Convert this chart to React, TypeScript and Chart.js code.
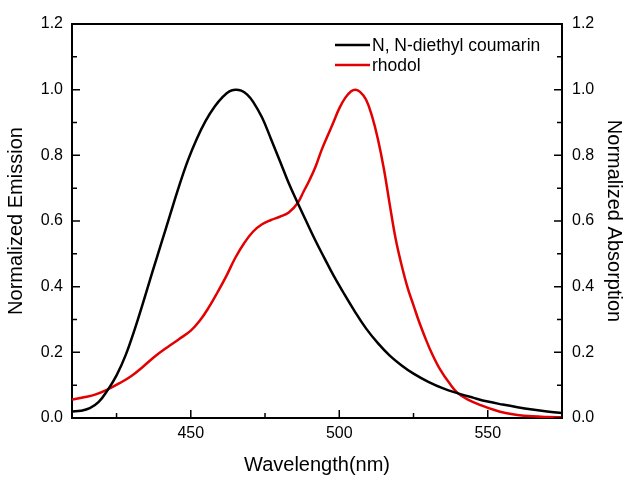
import React, { useEffect, useRef } from "react";
import { Chart, registerables } from "chart.js";

Chart.register(...registerables);

const coumarinLabel = "N, N-diethyl coumarin";
const rhodolLabel = "rhodol";

const coumarinWl = [410, 413, 416, 419, 422, 425, 428, 431, 434, 437, 440, 443, 446, 449, 452, 455, 458, 461, 463, 465, 467, 469, 471, 474, 477, 480, 483, 486, 489, 492, 495, 498, 501, 505, 509, 513, 517, 521, 525, 530, 535, 540, 545, 550, 555, 560, 565, 570, 575];
const coumarinEm = [0.02, 0.022, 0.03, 0.049, 0.085, 0.13, 0.19, 0.267, 0.353, 0.443, 0.53, 0.618, 0.705, 0.784, 0.85, 0.905, 0.948, 0.98, 0.995, 1.0, 0.997, 0.985, 0.963, 0.915, 0.85, 0.783, 0.715, 0.655, 0.597, 0.54, 0.487, 0.435, 0.388, 0.328, 0.273, 0.228, 0.19, 0.16, 0.135, 0.11, 0.09, 0.075, 0.062, 0.05, 0.041, 0.033, 0.026, 0.02, 0.015];

const rhodolWl = [410, 414, 418, 422, 426, 430, 434, 438, 442, 446, 450, 453, 456, 459, 462, 465, 468, 471, 474, 477, 480, 483, 486, 488, 490, 492, 494, 496, 498, 500, 502, 504, 505.5, 507, 509, 511, 513, 515, 517, 519, 521, 523, 525, 527, 529, 531, 534, 537, 540, 544, 548, 552, 556, 560, 565, 570, 575];
const rhodolAbs = [0.056, 0.063, 0.072, 0.087, 0.106, 0.128, 0.157, 0.188, 0.215, 0.24, 0.266, 0.296, 0.336, 0.383, 0.433, 0.488, 0.533, 0.568, 0.59, 0.603, 0.613, 0.626, 0.655, 0.69, 0.725, 0.765, 0.815, 0.858, 0.9, 0.943, 0.975, 0.995, 1.0, 0.993, 0.97, 0.92, 0.85, 0.76, 0.65, 0.545, 0.465, 0.397, 0.343, 0.29, 0.243, 0.2, 0.147, 0.107, 0.075, 0.053, 0.038, 0.025, 0.015, 0.009, 0.005, 0.003, 0.002];

const xMin = 410;
const xMax = 575;
const yMin = 0;
const yMax = 1.2;

const FONT = "'Liberation Sans', Arial, sans-serif";

const frameTicks = {
  id: "frameTicks",
  afterDraw(chart: any) {
    const { ctx, chartArea: a, scales } = chart;
    ctx.save();
    ctx.strokeStyle = "#000";
    ctx.lineWidth = 2;
    ctx.beginPath();
    ctx.moveTo(a.left - 1, a.top);
    ctx.lineTo(a.right + 1, a.top);
    ctx.stroke();
    ctx.lineWidth = 1.5;
    ctx.beginPath();
    scales.x.ticks.forEach((t: any) => {
      const major = Math.round(t.value) % 50 === 0;
      const px = scales.x.getPixelForValue(t.value);
      ctx.moveTo(px, a.bottom);
      ctx.lineTo(px, a.bottom - (major ? 8 : 5));
    });
    scales.y.ticks.forEach((t: any) => {
      const major = Math.round(t.value * 10) % 2 === 0;
      const py = scales.y.getPixelForValue(t.value);
      ctx.moveTo(a.left, py);
      ctx.lineTo(a.left + (major ? 8 : 5), py);
    });
    scales.y2.ticks.forEach((t: any) => {
      const major = Math.round(t.value * 10) % 2 === 0;
      const py = scales.y2.getPixelForValue(t.value);
      ctx.moveTo(a.right, py);
      ctx.lineTo(a.right - (major ? 8 : 5), py);
    });
    ctx.stroke();
    ctx.restore();
  },
};

const insideLegend = {
  id: "insideLegend",
  afterDraw(chart: any) {
    const { ctx, chartArea: a } = chart;
    const x0 = a.right - 227;
    ctx.save();
    ctx.font = `17.5px ${FONT}`;
    ctx.textBaseline = "middle";
    ctx.textAlign = "left";
    chart.data.datasets.forEach((ds: any, i: number) => {
      const y = a.top + 21 + i * 20;
      ctx.strokeStyle = ds.borderColor;
      ctx.lineWidth = 2.5;
      ctx.beginPath();
      ctx.moveTo(x0, y);
      ctx.lineTo(x0 + 35, y);
      ctx.stroke();
      ctx.fillStyle = "#000";
      ctx.fillText(ds.label, x0 + 37, y + 1);
    });
    ctx.restore();
  },
};

export default function App() {
  const ref = useRef<HTMLCanvasElement>(null);
  useEffect(() => {
    if (!ref.current) return;
    const yLabel = (v: any) => {
      const r = Math.round(Number(v) * 10);
      return r % 2 === 0 ? (r / 10).toFixed(1) : "";
    };
    const tickFont = { family: FONT, size: 16 };
    const titleFont = { family: FONT, size: 20, lineHeight: 1 };
    const chart = new Chart(ref.current, {
      type: "line",
      data: {
        datasets: [
          {
            label: coumarinLabel,
            data: coumarinWl.map((x, i) => ({ x, y: coumarinEm[i] })),
            borderColor: "#000000",
            borderWidth: 2.5,
            pointRadius: 0,
            tension: 0.4,
            yAxisID: "y",
          },
          {
            label: rhodolLabel,
            data: rhodolWl.map((x, i) => ({ x, y: rhodolAbs[i] })),
            borderColor: "#e30000",
            borderWidth: 2.5,
            pointRadius: 0,
            tension: 0.4,
            yAxisID: "y2",
          },
        ],
      },
      options: {
        responsive: false,
        animation: false,
        events: [],
        layout: { padding: { top: 24, left: 0, right: 0, bottom: 0 } },
        plugins: { legend: { display: false }, tooltip: { enabled: false } },
        scales: {
          x: {
            type: "linear",
            min: xMin,
            max: xMax,
            afterFit: (s: any) => {
              s.height = 59;
            },
            border: { display: true, color: "#000", width: 2 },
            grid: { display: false, drawTicks: false },
            ticks: {
              stepSize: 25,
              includeBounds: false,
              autoSkip: false,
              maxRotation: 0,
              padding: 6,
              color: "#000",
              font: tickFont,
              callback: (v: any) => (Math.round(Number(v)) % 50 === 0 ? String(v) : ""),
            },
            title: {
              display: true,
              text: "Wavelength(nm)",
              color: "#000",
              font: titleFont,
              padding: { top: 0, bottom: 2 },
            },
          },
          y: {
            type: "linear",
            position: "left",
            min: yMin,
            max: yMax,
            afterFit: (s: any) => {
              s.width = 72;
            },
            border: { display: true, color: "#000", width: 2 },
            grid: { display: false, drawTicks: false },
            ticks: {
              stepSize: 0.1,
              autoSkip: false,
              padding: 9,
              color: "#000",
              font: tickFont,
              callback: yLabel,
            },
            title: {
              display: true,
              text: "Normalized Emission",
              color: "#000",
              font: titleFont,
              padding: { top: 6, bottom: 0 },
            },
          },
          y2: {
            type: "linear",
            position: "right",
            min: yMin,
            max: yMax,
            afterFit: (s: any) => {
              s.width = 62;
            },
            border: { display: true, color: "#000", width: 2 },
            grid: { display: false, drawTicks: false },
            ticks: {
              stepSize: 0.1,
              autoSkip: false,
              padding: 10,
              color: "#000",
              font: tickFont,
              callback: yLabel,
            },
            title: {
              display: true,
              text: "Normalized Absorption",
              color: "#000",
              font: titleFont,
              padding: { top: 0, bottom: 0 },
            },
          },
        },
      } as any,
      plugins: [frameTicks, insideLegend],
    });
    return () => chart.destroy();
  }, []);
  return (
    <div style={{ position: "fixed", left: 0, top: 0, width: 624, height: 477, background: "#fff" }}>
      <canvas ref={ref} width={624} height={477} style={{ display: "block", width: 624, height: 477 }} />
    </div>
  );
}
